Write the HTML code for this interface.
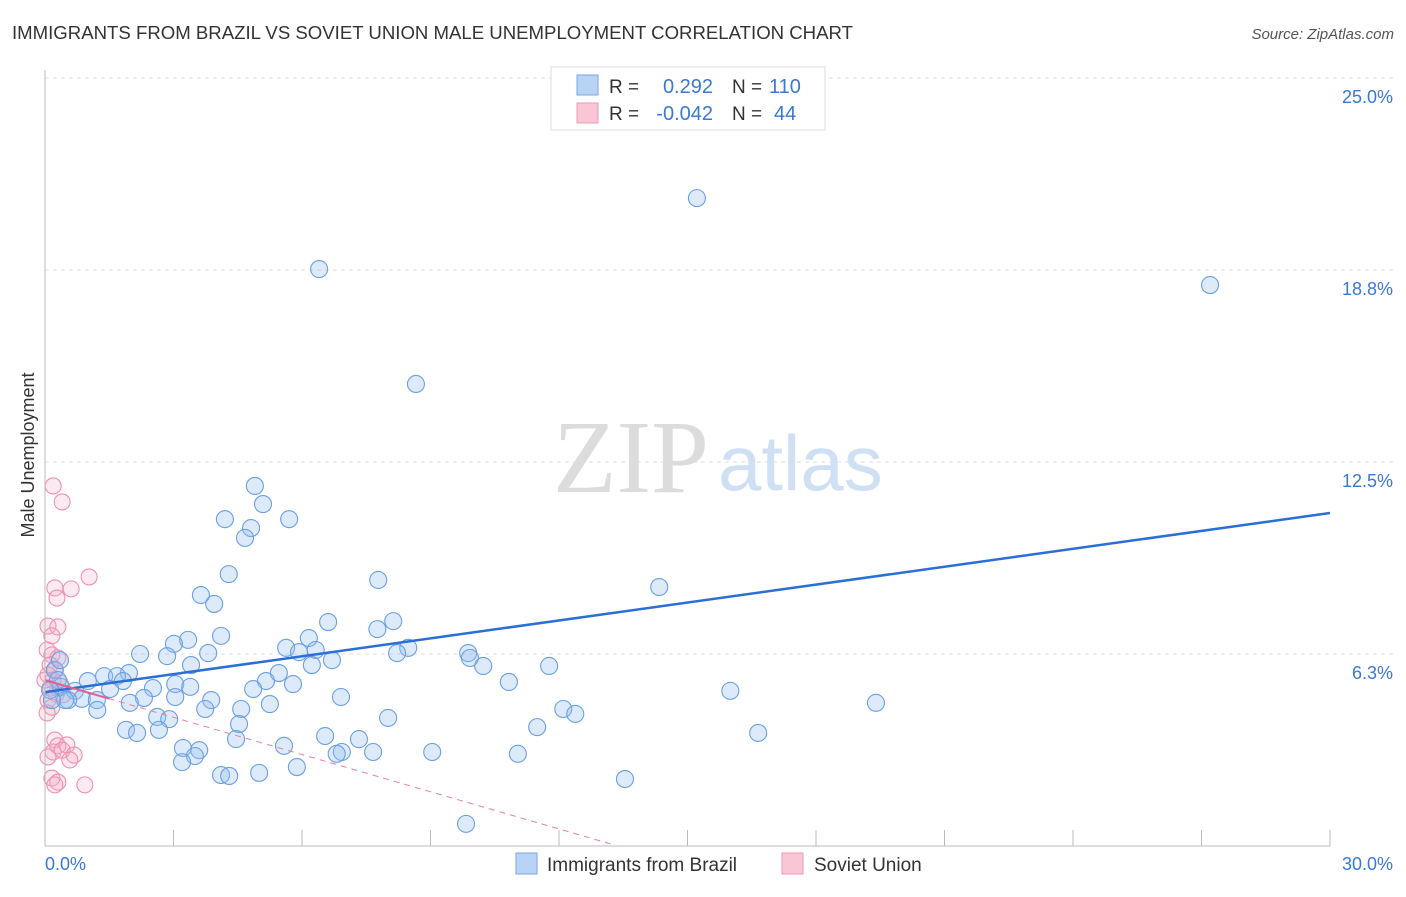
<!DOCTYPE html>
<html><head><meta charset="utf-8"><style>
body{margin:0;background:#fff;font-family:"Liberation Sans",sans-serif}
svg text{font-family:"Liberation Sans",sans-serif}
</style></head><body>
<svg id="chart" width="1406" height="892">
<text x="12" y="39" font-size="18.6" fill="#333">IMMIGRANTS FROM BRAZIL VS SOVIET UNION MALE UNEMPLOYMENT CORRELATION CHART</text>
<text x="1394" y="39" font-size="15" fill="#555" text-anchor="end" font-style="italic">Source: ZipAtlas.com</text>
<text x="34" y="455" font-size="18" fill="#333" transform="rotate(-90 34 455)" text-anchor="middle">Male Unemployment</text>
<g><text x="553" y="492" font-size="104" fill="#dcdcdc" style="font-family:'Liberation Serif',serif">ZIP</text><text x="718" y="490" font-size="78" fill="#cfe0f5">atlas</text></g>
<g id="grid"></g><g id="ticks"></g><g id="pts"></g><g id="lines"></g>
<line x1="45" y1="70" x2="45" y2="846" stroke="#bbb"/>
<line x1="45" y1="846" x2="1330" y2="846" stroke="#bbb"/>
<text x="45" y="870" font-size="18" fill="#3a78d6">0.0%</text>
<text x="1393" y="870" font-size="18" fill="#3a78d6" text-anchor="end">30.0%</text>
<g>
<rect x="551" y="67" width="274" height="63" fill="#fff" stroke="#ddd"/>
<rect x="577" y="75" width="21" height="20" fill="#b9d3f5" stroke="#7aa6e6"/>
<rect x="577" y="103" width="21" height="20" fill="#f9c6d5" stroke="#ee9ab3"/>
<text x="609" y="93" font-size="19" fill="#333">R =</text><text x="713" y="93" font-size="20" fill="#3a78d6" text-anchor="end">0.292</text>
<text x="732" y="93" font-size="19" fill="#333">N =</text><text x="769" y="93" font-size="20" fill="#3a78d6">110</text>
<text x="609" y="120" font-size="19" fill="#333">R =</text><text x="713" y="120" font-size="20" fill="#3a78d6" text-anchor="end">-0.042</text>
<text x="732" y="120" font-size="19" fill="#333">N =</text><text x="774" y="120" font-size="20" fill="#3a78d6">44</text>
</g>
<g>
<rect x="516" y="853" width="21" height="21" fill="#b9d3f5" stroke="#7aa6e6"/>
<text x="547" y="871" font-size="19" fill="#333">Immigrants from Brazil</text>
<rect x="782" y="853" width="21" height="21" fill="#f9c6d5" stroke="#ee9ab3"/>
<text x="814" y="871" font-size="19" fill="#333">Soviet Union</text>
</g>
</svg>
<script>
const yTicks=[25,18.75,12.5,6.25];
const yTickLabels=["25.0%","18.8%","12.5%","6.3%"];
const xTicks=[0,3,6,9,12,15,18,21,24,27,30];
const brazilX=[15.22,6.40,27.20,8.66,4.90,5.09,4.20,5.70,4.81,4.67,4.29,7.78,14.34,3.64,3.95,6.61,8.13,7.76,4.11,3.34,3.01,6.16,5.63,6.32,8.48,8.22,3.81,2.22,2.85,5.93,9.88,9.92,6.70,3.41,6.23,11.77,10.23,5.46,1.96,5.16,5.79,10.83,1.38,1.68,1.82,1.00,3.04,3.39,2.52,1.52,0.37,0.70,4.86,16.00,6.91,2.31,3.04,3.88,0.86,1.21,0.54,1.98,19.40,5.25,4.58,3.74,12.10,1.22,12.38,2.62,8.01,2.90,4.53,11.49,1.89,2.66,2.15,6.54,16.65,7.33,4.46,5.58,3.22,3.60,7.66,9.04,6.93,6.81,11.04,3.50,3.20,5.88,5.00,4.11,4.30,13.54,9.83,0.23,0.30,0.12,0.47,0.16,0.35];
const brazilY=[21.09,18.78,18.26,15.04,11.72,11.13,10.64,10.64,10.35,10.03,8.85,8.66,8.43,8.17,7.88,7.29,7.32,7.06,6.84,6.71,6.58,6.77,6.45,6.38,6.45,6.28,6.28,6.25,6.18,6.31,6.28,6.12,6.05,5.89,5.89,5.86,5.86,5.63,5.63,5.37,5.27,5.34,5.53,5.53,5.37,5.37,5.27,5.18,5.14,5.11,5.18,5.05,5.11,5.05,4.85,4.82,4.85,4.75,4.79,4.75,4.75,4.66,4.66,4.62,4.46,4.46,4.46,4.43,4.30,4.20,4.17,4.13,3.97,3.87,3.78,3.78,3.68,3.58,3.68,3.48,3.48,3.26,3.19,3.12,3.06,3.06,3.06,3.00,3.00,2.93,2.73,2.57,2.38,2.31,2.28,2.18,0.72,5.73,5.40,5.08,4.75,4.75,6.05];
const sovietX=[0.19,0.40,1.03,0.23,0.61,0.28,0.07,0.30,0.16,0.05,0.16,0.30,0.12,0.23,0.07,0.19,0.35,0.12,0.26,0.07,0.16,0.05,0.23,0.30,0.51,0.19,0.40,0.68,0.07,0.58,0.16,0.30,0.23,0.93,0.42,0.00];
const sovietY=[11.72,11.20,8.76,8.40,8.37,8.07,7.16,7.13,6.84,6.38,6.22,6.12,5.89,5.73,5.57,5.40,5.31,5.14,4.95,4.75,4.52,4.33,3.45,3.26,3.29,3.06,3.12,2.96,2.90,2.80,2.21,2.08,1.99,1.99,4.92,5.40];
const brazilTrend=[5.01,10.84];
const sovietTrendX=[0,13.3];
const sovietTrendY=[5.40,0.03];
const NS='http://www.w3.org/2000/svg';
const X=v=>45+v/30*1285, Y=v=>846-v/25*768;
function mk(t,p,a){const e=document.createElementNS(NS,t);for(const k in a)e.setAttribute(k,a[k]);p.appendChild(e);return e;}
const grid=document.getElementById('grid'),ticks=document.getElementById('ticks'),pts=document.getElementById('pts'),lines=document.getElementById('lines');
yTicks.forEach((v,i)=>{
 const l=mk('line',grid,{x1:45,x2:1395,y1:Y(v),y2:Y(v),stroke:'#ddd','stroke-dasharray':'4 4'});
 
 
 const t=mk('text',grid,{x:1393,y:Y(v)+25,'font-size':18,fill:'#3a78d6','text-anchor':'end'});
 t.textContent=yTickLabels[i];
 
 
});
xTicks.forEach(v=>{
 const l=mk('line',ticks,{x1:X(v),x2:X(v),y1:830,y2:846,stroke:'#bbb'});
 
 
});
sovietX.forEach((v,i)=>{
 const c=mk('circle',pts,{cx:X(v),cy:Y(sovietY[i]),r:8,fill:'rgba(246,170,195,0.25)',stroke:'#ef8fb0','stroke-width':1.1});
 
 
});
brazilX.forEach((v,i)=>{
 const c=mk('circle',pts,{cx:X(v),cy:Y(brazilY[i]),r:8.5,fill:'rgba(150,190,240,0.32)',stroke:'#6a9fe3','stroke-width':1.1});
 
 
});
const bl=mk('line',lines,{x1:X(0),y1:Y(brazilTrend[0]),x2:X(30),y2:Y(brazilTrend[1]),stroke:'#2a6fd6','stroke-width':2.5});


const sd=mk('line',lines,{x1:X(sovietTrendX[0]),y1:Y(sovietTrendY[0]),x2:X(sovietTrendX[1]),y2:Y(sovietTrendY[1]),stroke:'#e87fa3','stroke-width':1,'stroke-dasharray':'6 5'});


const f=1.5/13.3, sy=sovietTrendY[0]+(sovietTrendY[1]-sovietTrendY[0])*f;
const ss=mk('line',lines,{x1:X(sovietTrendX[0]),y1:Y(sovietTrendY[0]),x2:X(1.5),y2:Y(sy),stroke:'#e0608e','stroke-width':2});


</script>
</body></html>
